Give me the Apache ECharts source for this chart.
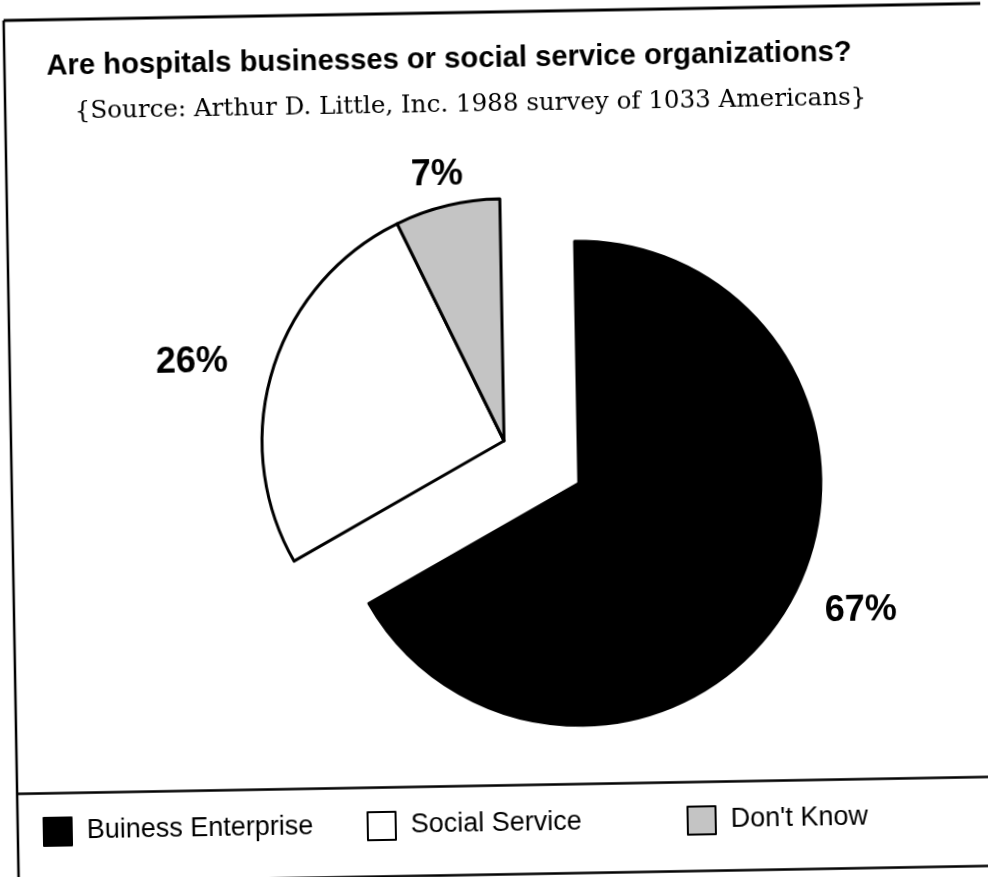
<!DOCTYPE html>
<html><head><meta charset="utf-8">
<script src="https://cdn.jsdelivr.net/npm/echarts@6/dist/echarts.min.js"></script>
<style>
html,body{margin:0;padding:0;background:#fff;overflow:hidden}
#chart{width:988px;height:877px;transform:rotate(-1deg);transform-origin:494px 438.5px}
</style>
</head><body><div id="chart"></div>
<script>
// ---- data ----
const titleText = 'Are hospitals businesses or social service organizations?';
const subtitleText = '{Source: Arthur D. Little, Inc. 1988 survey of 1033 Americans}';
const categories = ['Buiness Enterprise', 'Social Service', "Don't Know"];
const values = [67, 26, 7];

// ---- style ----
const colors = ['#000000', '#ffffff', '#c4c4c4'];
const labelLen = [18, 29, 31];
const labelLen2 = [15, 12, -28];
const legendLeft = [36, 360, 680];

function fitSize(text, font, target) {
  const ctx = document.createElement('canvas').getContext('2d');
  ctx.font = font.replace('{s}', '100px');
  return 100 * target / ctx.measureText(text).width;
}
const titleFs = fitSize(titleText, 'bold {s} "Liberation Sans"', 806);
const subFs = fitSize(subtitleText, '{s} "DejaVu Serif"', 792);

const chart = echarts.init(document.getElementById('chart'), null, {renderer: 'canvas'});
const option = {
  animation: false,
  backgroundColor: '#fff',
  title: [
    {text: titleText, left: 53, top: 69 - 0.8465 * titleFs, padding: 0,
     textStyle: {fontFamily: 'Liberation Sans', fontWeight: 'bold', fontSize: titleFs, color: '#000'}},
    {text: subtitleText, left: 80.6, top: 112.5 - 0.846 * subFs, padding: 0,
     textStyle: {fontFamily: 'DejaVu Serif', fontWeight: 'normal', fontSize: subFs, color: '#000'}}
  ],
  legend: categories.map((c, i) => ({
    data: [c], left: legendLeft[i], top: 809, padding: 0, icon: 'rect',
    itemWidth: 28, itemHeight: 28, selectedMode: false,
    textStyle: {fontFamily: 'Liberation Sans', fontSize: 27, color: '#000', padding: [0, 0, 0, 10]}
  })),
  graphic: [
    {type: 'line', shape: {x1: 11, y1: 12, x2: 1000, y2: 12}, style: {stroke: '#000', lineWidth: 3}},
    {type: 'line', shape: {x1: 11, y1: 12, x2: 11, y2: 900}, style: {stroke: '#000', lineWidth: 2.5}},
    {type: 'line', shape: {x1: 992, y1: 12, x2: 992, y2: 785}, style: {stroke: '#000', lineWidth: 2.5}},
    {type: 'line', shape: {x1: 11, y1: 785.5, x2: 1000, y2: 785.5}, style: {stroke: '#000', lineWidth: 2.5}},
    {type: 'line', shape: {x1: 11, y1: 874.5, x2: 1000, y2: 874.5}, style: {stroke: '#000', lineWidth: 2.5}}
  ],
  series: [{
    type: 'pie',
    center: [504, 441],
    radius: 242,
    startAngle: 90,
    clockwise: true,
    selectedMode: 'single',
    selectedOffset: 86,
    avoidLabelOverlap: false,
    emphasis: {scale: false},
    label: {show: true, position: 'outside', formatter: p => p.value + '%',
            fontFamily: 'Liberation Sans', fontWeight: 'bold', fontSize: 36, color: '#000'},
    labelLine: {show: false},
    itemStyle: {borderColor: '#000', borderWidth: 3},
    data: categories.map((name, i) => ({
      name: name, value: values[i], selected: i === 0,
      itemStyle: {color: colors[i]},
      labelLine: {show: false, length: labelLen[i], length2: labelLen2[i]}
    }))
  }]
};
chart.setOption(option);
</script>
</body></html>
